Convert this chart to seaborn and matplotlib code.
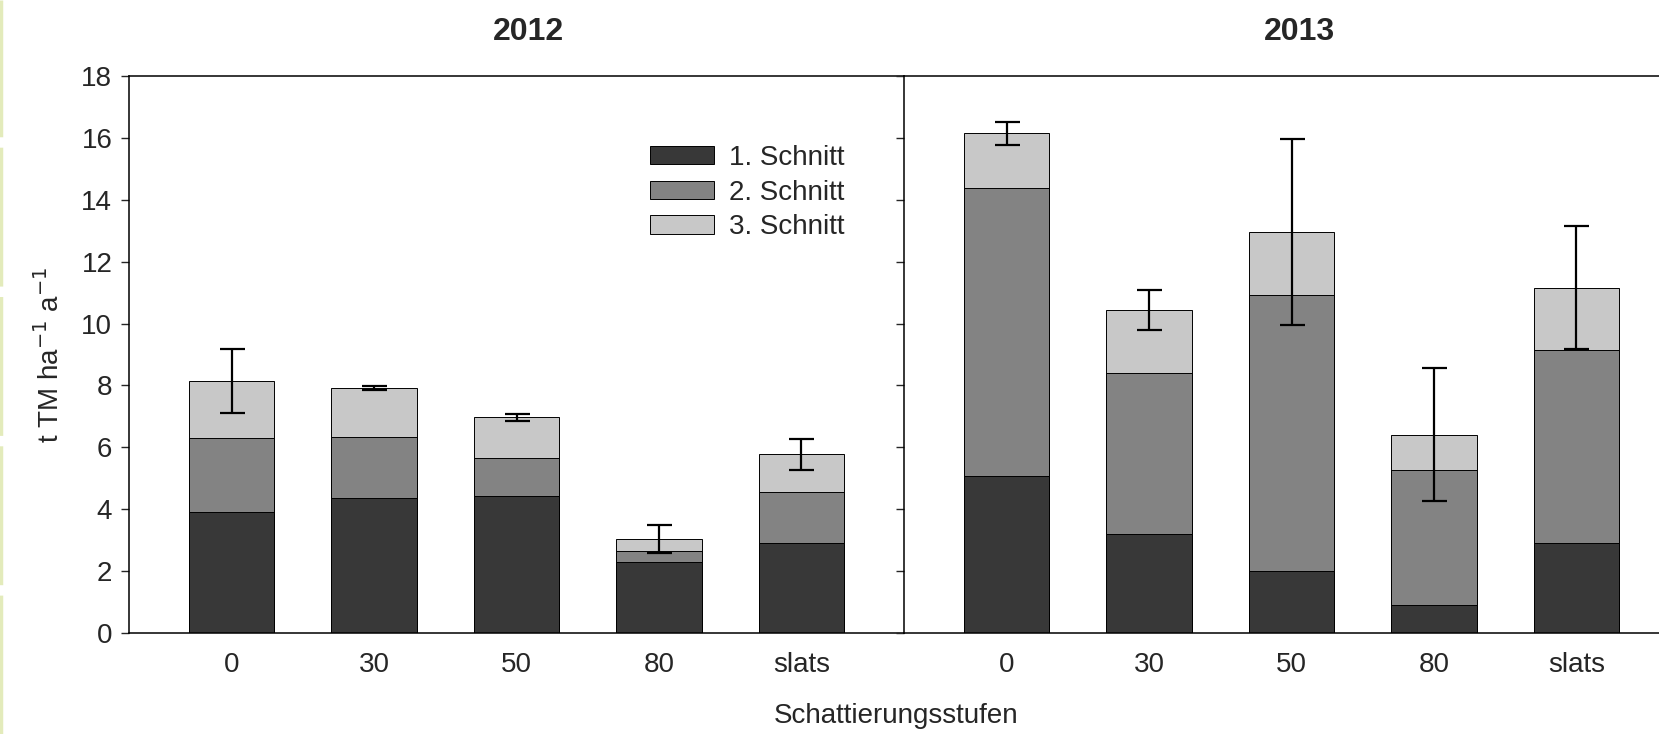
import matplotlib
matplotlib.use("Agg")
import matplotlib.pyplot as plt
from matplotlib.patches import Patch
from matplotlib.lines import Line2D
import seaborn as sns
import pandas as pd

# shading levels
stufen = ["0", "30", "50", "80", "slats"]
years = ["2012", "2013"]
schnitt_labels = ["1. Schnitt", "2. Schnitt", "3. Schnitt"]

# yields per cut, t TM / ha / a
schnitt1_2012 = [3.91, 4.36, 4.41, 2.28, 2.90]
schnitt2_2012 = [2.40, 1.96, 1.24, 0.35, 1.64]
schnitt3_2012 = [1.84, 1.59, 1.32, 0.40, 1.23]
err_2012 = [1.04, 0.06, 0.11, 0.45, 0.49]

schnitt1_2013 = [5.06, 3.19, 2.01, 0.89, 2.91]
schnitt2_2013 = [9.34, 5.21, 8.92, 4.37, 6.24]
schnitt3_2013 = [1.75, 2.04, 2.04, 1.15, 2.01]
err_2013 = [0.37, 0.66, 3.00, 2.14, 1.99]

colors = ["#383838", "#838383", "#c8c8c8"]


def build_dataframe() -> pd.DataFrame:
    rows = []
    per_year = {
        "2012": (schnitt1_2012, schnitt2_2012, schnitt3_2012),
        "2013": (schnitt1_2013, schnitt2_2013, schnitt3_2013),
    }
    for year, series in per_year.items():
        for label, values in zip(schnitt_labels, series):
            for stufe, val in zip(stufen, values):
                rows.append({"year": year, "stufe": stufe, "schnitt": label, "value": val})
    df = pd.DataFrame(rows)
    # cumulative height for stacking
    df["top"] = df.groupby(["year", "stufe"], sort=False)["value"].cumsum()
    return df


def plot_panel(ax, df: pd.DataFrame, year: str, errors: list, title_x: float) -> None:
    sub = df[df.year == year]
    # draw from the top layer down so the lower layers cover the upper ones
    for label, color in reversed(list(zip(schnitt_labels, colors))):
        sns.barplot(
            data=sub[sub.schnitt == label],
            x="stufe",
            y="top",
            order=stufen,
            color=color,
            edgecolor="black",
            linewidth=0.7,
            width=0.6,
            saturation=1,
            errorbar=None,
            ax=ax,
        )
    totals = sub[sub.schnitt == schnitt_labels[-1]].set_index("stufe").loc[stufen, "top"]
    ax.errorbar(
        range(len(stufen)),
        totals.values,
        yerr=errors,
        fmt="none",
        ecolor="black",
        elinewidth=1.6,
        capsize=9,
        capthick=1.6,
    )
    ax.set_xlim(-0.72, len(stufen) - 1 + 0.72)
    ax.set_ylim(0, 18)
    ax.set_yticks(range(0, 19, 2))
    ax.set_title(year, fontsize=23, fontweight="bold", pad=26, x=title_x)
    ax.set_xlabel("")
    ax.set_ylabel("")
    ax.tick_params(axis="x", length=0, pad=14, labelsize=20)
    ax.tick_params(axis="y", length=6, width=1.0, pad=6, labelsize=20, direction="out")
    ax.spines["right"].set_visible(False)
    for side in ["left", "top", "bottom"]:
        ax.spines[side].set_linewidth(1.1)
        ax.spines[side].set_color("black")


if __name__ == "__main__":
    sns.set_theme(style="ticks")
    plt.rcParams["font.family"] = ["Liberation Sans", "DejaVu Sans"]

    df = build_dataframe()

    fig = plt.figure(figsize=(16.59, 7.34), dpi=100)
    W, H = 1659, 734
    bottom = (H - 632.8) / H
    height = (632.8 - 76.2) / H
    ax_l = fig.add_axes([129 / W, bottom, 775 / W, height])
    ax_r = fig.add_axes([904 / W, bottom, 775 / W, height])

    plot_panel(ax_l, df, "2012", err_2012, 0.515)
    plot_panel(ax_r, df, "2013", err_2013, 0.51)
    ax_r.tick_params(axis="y", labelleft=False)

    ax_l.set_ylabel("t TM ha$^{-1}$ a$^{-1}$", fontsize=20, labelpad=12)

    handles = [Patch(facecolor=c, edgecolor="black", linewidth=0.7) for c in colors]
    ax_l.legend(
        handles,
        schnitt_labels,
        loc="upper left",
        bbox_to_anchor=(0.672, 0.877),
        frameon=False,
        fontsize=20,
        handlelength=2.3,
        handleheight=0.65,
        handletextpad=0.55,
        labelspacing=0.32,
        borderpad=0,
        borderaxespad=0,
    )

    fig.text(896 / W, 1 - 716 / H, "Schattierungsstufen", ha="center", va="center", fontsize=20)

    # faint dashed mark along the left border
    fig.add_artist(
        Line2D([1 / W, 1 / W], [0, 1], transform=fig.transFigure,
               color="#e3ebbb", linewidth=2.5, linestyle=(0, (40, 3)))
    )

    fig.savefig("out.png", dpi=100)
